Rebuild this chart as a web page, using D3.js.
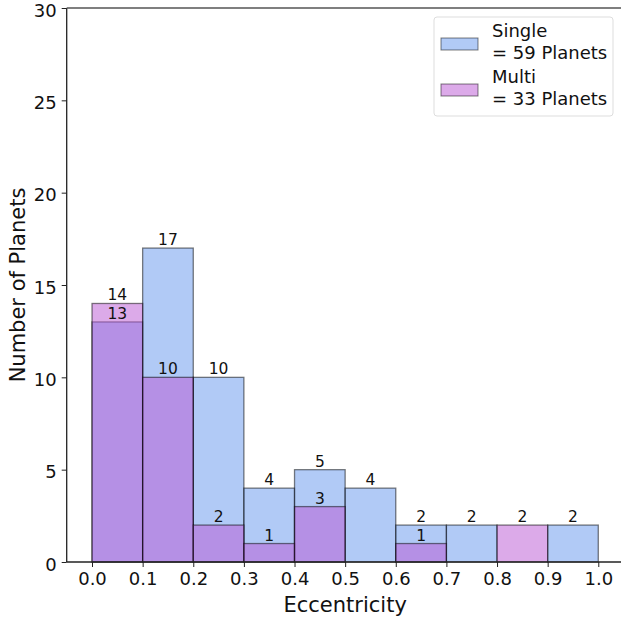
<!DOCTYPE html>
<html>
<head>
<meta charset="utf-8">
<script src="https://cdn.jsdelivr.net/npm/d3@7"></script>
<style>
  body { margin: 0; background: #fff; }
  svg { font-family: "DejaVu Sans", sans-serif; }
</style>
</head>
<body>
<div id="chart"></div>
<script>
// bin edges and counts
const binEdges = [0.0, 0.1, 0.2, 0.3, 0.4, 0.5, 0.6, 0.7, 0.8, 0.9, 1.0];
const singleCounts = [13, 17, 10, 4, 5, 4, 2, 2, 0, 2];
const multiCounts = [14, 10, 2, 1, 3, 0, 1, 0, 2, 0];
const xTicks = [0.0, 0.1, 0.2, 0.3, 0.4, 0.5, 0.6, 0.7, 0.8, 0.9, 1.0];
const yTicks = [0, 5, 10, 15, 20, 25, 30];
const legendLabels = [["Single", "= 59 Planets"], ["Multi", "= 33 Planets"]];

const W = 621, H = 623;
const margin = {top: 8, left: 66.7};
const plotH = 562 - margin.top;

const x = d3.scaleLinear().domain([-0.05, 1.05]).range([margin.left, 623.6]);
const y = d3.scaleLinear().domain([0, 30]).range([562, margin.top]);

const svg = d3.select('#chart').append('svg')
    .attr('width', W).attr('height', H);

const series = [
    {counts: singleCounts, colour: 'cornflowerblue'},
    {counts: multiCounts, colour: 'mediumorchid'}
];

series.forEach(function(s) {
    svg.append('g').selectAll('rect')
        .data(s.counts.map((c, i) => ({c: c, x0: binEdges[i], x1: binEdges[i + 1]})))
        .join('rect')
        .attr('x', d => x(d.x0))
        .attr('width', d => x(d.x1) - x(d.x0))
        .attr('y', d => y(d.c))
        .attr('height', d => y(0) - y(d.c))
        .attr('fill', s.colour)
        .attr('fill-opacity', 0.5)
        .attr('stroke', d => d.c > 0 ? '#000' : 'none')
        .attr('stroke-opacity', 0.5)
        .attr('stroke-width', 1.3);
});

// count labels
series.forEach(function(s) {
    svg.append('g').selectAll('text')
        .data(s.counts.map((c, i) => ({c: c, xm: (binEdges[i] + binEdges[i + 1]) / 2})).filter(d => d.c > 0))
        .join('text')
        .attr('x', d => x(d.xm))
        .attr('y', d => y(d.c) - 3)
        .attr('text-anchor', 'middle')
        .attr('font-size', 15.5)
        .attr('fill', '#111')
        .text(d => d.c);
});

// axes
const xAxis = svg.append('g')
    .attr('transform', 'translate(0,' + y(0) + ')')
    .call(d3.axisBottom(x).tickValues(xTicks).tickFormat(d3.format('.1f')).tickSize(5).tickPadding(5));
const yAxis = svg.append('g')
    .attr('transform', 'translate(' + margin.left + ',0)')
    .call(d3.axisLeft(y).tickValues(yTicks).tickSize(5).tickPadding(5));
[xAxis, yAxis].forEach(function(a) {
    a.attr('font-size', 18).attr('font-family', '"DejaVu Sans", sans-serif');
    a.selectAll('.tick text').attr('fill', '#111');
    a.selectAll('.tick line').attr('stroke', '#222').attr('stroke-width', 1);
    a.select('.domain').remove();
});
yAxis.selectAll('.tick text').attr('dy', '0.45em');

// spines
svg.append('line')
    .attr('x1', margin.left).attr('x2', margin.left)
    .attr('y1', margin.top).attr('y2', y(0))
    .attr('stroke', '#222').attr('stroke-width', 1.3);
svg.append('line')
    .attr('x1', margin.left).attr('x2', W)
    .attr('y1', y(0)).attr('y2', y(0))
    .attr('stroke', '#222').attr('stroke-width', 1.3);
svg.append('line')
    .attr('x1', margin.left).attr('x2', W)
    .attr('y1', margin.top).attr('y2', margin.top)
    .attr('stroke', '#555').attr('stroke-width', 1.3);

// axis labels
svg.append('text')
    .attr('x', x(0.5)).attr('y', 612)
    .attr('text-anchor', 'middle')
    .attr('font-size', 21)
    .attr('fill', '#111')
    .text('Eccentricity');
svg.append('text')
    .attr('transform', 'translate(25,' + (margin.top + plotH / 2) + ') rotate(-90)')
    .attr('text-anchor', 'middle')
    .attr('font-size', 21)
    .attr('fill', '#111')
    .text('Number of Planets');

// legend
const legend = svg.append('g').attr('transform', 'translate(434,17)');
legend.append('rect')
    .attr('width', 179).attr('height', 99)
    .attr('rx', 3)
    .attr('fill', '#fff').attr('fill-opacity', 0.8)
    .attr('stroke', '#ddd');
legendLabels.forEach(function(lbl, i) {
    const g = legend.append('g').attr('transform', 'translate(0,' + (i * 46) + ')');
    g.append('rect')
        .attr('x', 7).attr('y', 21)
        .attr('width', 37).attr('height', 12)
        .attr('fill', series[i].colour).attr('fill-opacity', 0.5)
        .attr('stroke', '#000').attr('stroke-opacity', 0.5);
    lbl.forEach(function(t, j) {
        g.append('text')
            .attr('x', 58).attr('y', 20 + j * 22)
            .attr('font-size', 18)
            .attr('fill', '#111')
            .text(t);
    });
});
</script>
</body>
</html>
